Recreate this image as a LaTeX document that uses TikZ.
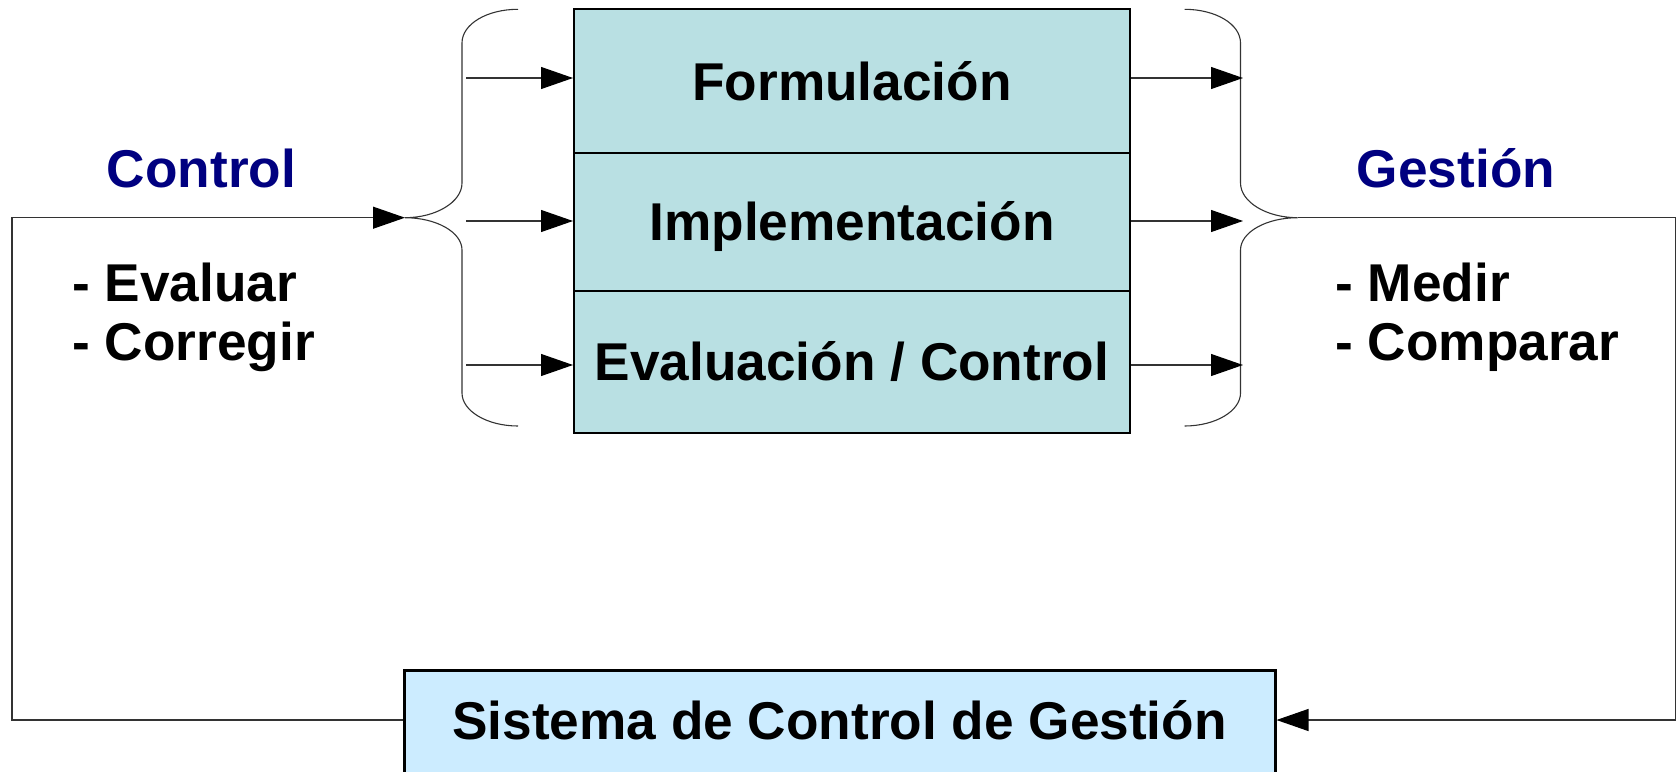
\documentclass[tikz,border=0pt]{standalone}
\usepackage{fontspec}
\setmainfont{Liberation Sans}
\usetikzlibrary{arrows.meta}
\definecolor{cellfill}{RGB}{185,224,227}
\definecolor{sysfill}{RGB}{204,236,255}
\definecolor{navyblue}{RGB}{0,0,128}
\tikzset{
  big/.style={font=\bfseries\fontsize{26.6pt}{31pt}\selectfont},
  cell/.style={big, draw=black, line width=1pt, fill=cellfill, minimum width=278pt, inner sep=0pt, text height=19pt, text depth=0pt},
  sysbox/.style={big, draw=black, line width=1.5pt, fill=sysfill, minimum width=435.5pt, minimum height=58pt, inner sep=0pt, text height=19pt, text depth=0pt},
  conn/.style={draw=black!80, line width=0.55pt},
  arr/.style={conn, -{Triangle[length=16pt,width=11pt,black]}},
  bracepath/.style={draw=black!80, line width=0.55pt},
  head/.style={big, text=navyblue, anchor=base},
  item/.style={big, anchor=base west, inner sep=0pt},
}
\begin{document}
\begin{tikzpicture}[x=0.5pt, y=-0.5pt]
\useasboundingbox (0,0) rectangle (1680,771);
\clip (0,0) rectangle (1680,771);

% coordinates
\coordinate (lt) at (405,217.7);
\coordinate (rt) at (1297.5,217.7);
\coordinate (lc) at (12,217.7);
\coordinate (rc) at (1675.7,217.7);
\coordinate (a1) at (466,78);
\coordinate (a2) at (466,221);
\coordinate (a3) at (466,365);
\coordinate (b1) at (1243,78);
\coordinate (b2) at (1243,221);
\coordinate (b3) at (1243,365);

% main stacked boxes
\node[cell, minimum height=71.7pt] (f) at (852,81) {Formulación};
\node[cell, minimum height=69.15pt] (i) at (852,221.85) {Implementación};
\node[cell, minimum height=70.75pt] (e) at (852,361.75) {Evaluación / Control};

% bottom box (runs past the lower edge)
\node[sysbox, anchor=north, yshift=-0pt] (s) at (839.5,668.5) {};
\node[big, anchor=base, inner sep=0pt] (st) at (839.5,739) {Sistema de Control de Gestión};
\coordinate (se) at (s.north east |- 0,720);
\coordinate (sw) at (s.north west |- 0,720);

% headings and items
\node[head] (ctl) at (201.5,187) {Control};
\node[head] (ges) at (1456,187) {Gestión};
\node[item] (ev) at (72,301) {- Evaluar};
\node[item] (co) at (72,360) {- Corregir};
\node[item] (me) at (1335,301) {- Medir};
\node[item] (cp) at (1335,360) {- Comparar};

% braces
\draw[bracepath] (518,9.3) .. controls (487,9.3) and (462,24) .. (462,43)
  -- (462,183) .. controls (462,202) and (436,217.7) .. (lt)
  .. controls (436,217.7) and (462,232) .. (462,250)
  -- (462,393) .. controls (462,411) and (487,426) .. (518,426);
\draw[bracepath] (1184.5,9.3) .. controls (1215.5,9.3) and (1240.5,24) .. (1240.5,43)
  -- (1240.5,183) .. controls (1240.5,202) and (1266.5,217.7) .. (rt)
  .. controls (1266.5,217.7) and (1240.5,232) .. (1240.5,250)
  -- (1240.5,393) .. controls (1240.5,411) and (1215.5,426) .. (1184.5,426);

% arrows into boxes
\draw[arr] (a1) -- (a1 -| f.west);
\draw[arr] (a2) -- (a2 -| i.west);
\draw[arr] (a3) -- (a3 -| e.west);
\draw[arr] (a1 -| f.east) -- (b1);
\draw[arr] (a2 -| i.east) -- (b2);
\draw[arr] (a3 -| e.east) -- (b3);

% feedback loop
\draw[arr] (rt) -- (rc) |- (se);
\draw[arr] (sw) -| (lc) -- (lt);
\end{tikzpicture}
\end{document}
